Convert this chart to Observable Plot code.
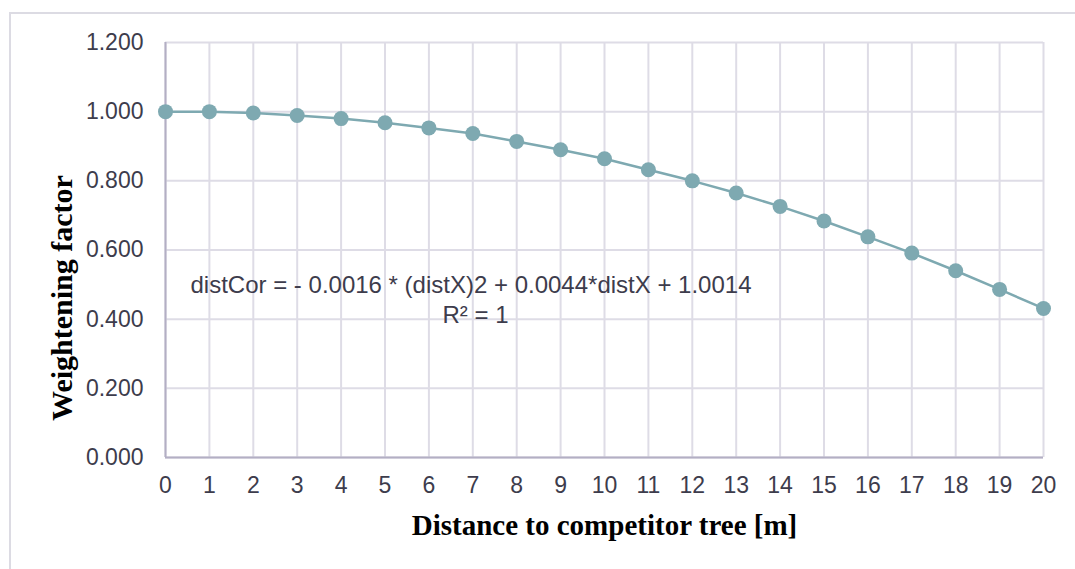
<!DOCTYPE html>
<html>
<head>
<meta charset="utf-8">
<script src="https://cdn.jsdelivr.net/npm/d3@7"></script>
<script src="https://cdn.jsdelivr.net/npm/@observablehq/plot@0.6"></script>
<style>
  html, body { margin: 0; padding: 0; background: #fff; }
  #wrap { position: relative; width: 1075px; height: 569px; overflow: hidden; }
  #frame { position: absolute; left: 9px; top: 12px; width: 1200px; height: 700px;
           border-left: 2px solid #dcdbe3; border-top: 2px solid #dcdbe3; pointer-events: none; }
</style>
</head>
<body>
<div id="wrap"><div id="frame"></div></div>
<script>
// Distance to the competitor tree (m)
const distances = [0, 1, 2, 3, 4, 5, 6, 7, 8, 9, 10, 11, 12, 13, 14, 15, 16, 17, 18, 19, 20];
// Weightening factor at each distance
const factors = [1.000, 1.000, 0.996, 0.989, 0.980, 0.968, 0.953, 0.937, 0.914, 0.890, 0.864,
                 0.832, 0.800, 0.765, 0.726, 0.684, 0.638, 0.591, 0.540, 0.486, 0.431];
const yTicks = [0, 0.2, 0.4, 0.6, 0.8, 1.0, 1.2];
const xTitle = "Distance to competitor tree [m]";
const yTitle = "Weightening factor";
const equation = "distCor = - 0.0016 * (distX)2 + 0.0044*distX + 1.0014";
const rSquared = "R² = 1";

const data = distances.map((d, i) => ({x: d, y: factors[i]}));

const seriesColor = "#7ea9b1";
const gridColor = "#dedce6";
const axisColor = "#b3afc4";
const tickColor = "#3d3c4c";
const serif = "'Liberation Serif', 'Times New Roman', serif";

const chart = Plot.plot({
  width: 1075,
  height: 569,
  marginLeft: 165,
  marginRight: 32,
  marginTop: 42,
  marginBottom: 112,
  style: {background: "transparent", fontFamily: "'Liberation Sans', Arial, sans-serif"},
  x: {domain: [0, 20]},
  y: {domain: [0, 1.2]},
  marks: [
    Plot.gridX(distances, {stroke: gridColor, strokeOpacity: 1, strokeWidth: 2}),
    Plot.gridY(yTicks, {stroke: gridColor, strokeOpacity: 1, strokeWidth: 2}),
    Plot.ruleX([0], {stroke: axisColor, strokeWidth: 2}),
    Plot.ruleY([0], {stroke: axisColor, strokeWidth: 2}),
    Plot.axisY(yTicks, {tickSize: 0, tickPadding: 22, tickFormat: d3.format(".3f"),
      fontSize: 23, fill: tickColor, label: null}),
    Plot.axisX(distances, {tickSize: 0, tickPadding: 19, tickFormat: d => String(d),
      fontSize: 23, fill: tickColor, label: null}),
    Plot.line(data, {x: "x", y: "y", stroke: seriesColor, strokeWidth: 2.5}),
    Plot.dot(data, {x: "x", y: "y", r: 7.5, fill: seriesColor, stroke: null}),
    Plot.text([equation], {frameAnchor: "top-left", dx: 25, dy: 243, textAnchor: "start",
      fontSize: 24, fill: tickColor, lineAnchor: "middle"}),
    Plot.text([rSquared], {frameAnchor: "top-left", dx: 310, dy: 273, textAnchor: "middle",
      fontSize: 24, fill: tickColor, lineAnchor: "middle"}),
    Plot.text([xTitle], {frameAnchor: "bottom", dy: 68, fontSize: 29, fontWeight: "bold",
      fontFamily: serif, fill: "#000", lineAnchor: "middle"}),
    Plot.text([yTitle], {frameAnchor: "left", dx: -103, dy: 48, rotate: -90, textAnchor: "middle",
      fontSize: 30, fontWeight: "bold", fontFamily: serif, fill: "#000", lineAnchor: "middle"})
  ]
});
document.getElementById("wrap").prepend(chart);
</script>
</body>
</html>
